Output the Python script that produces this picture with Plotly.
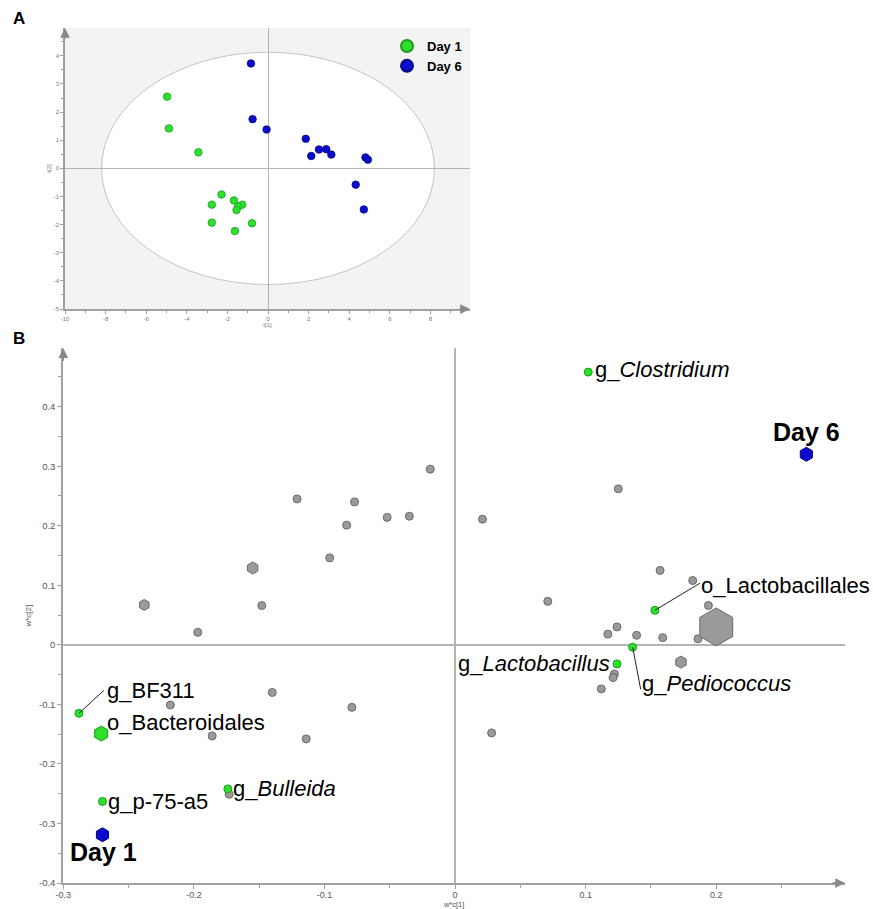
import plotly.graph_objects as go

# ---------------- Panel A: score plot (t[1] vs t[2]) ----------------
a_day1_t1 = [-4.97, -4.88, -3.43, -2.29, -2.77, -1.68, -1.27, -1.47, -1.55, -2.77, -0.79, -1.63]
a_day1_t2 = [2.55, 1.42, 0.57, -0.93, -1.29, -1.14, -1.29, -1.35, -1.48, -1.93, -1.95, -2.23]
a_day6_t1 = [-0.84, -0.76, -0.07, 1.86, 2.13, 2.51, 2.87, 3.12, 4.80, 4.92, 4.32, 4.72]
a_day6_t2 = [3.73, 1.75, 1.38, 1.05, 0.44, 0.67, 0.68, 0.49, 0.39, 0.31, -0.58, -1.46]
a_ellipse_axes = [8.2, 4.13]          # Hotelling T2 ellipse semi-axes
a_xticks = [-10, -8, -6, -4, -2, 0, 2, 4, 6, 8]
a_yticks = [-5, -4, -3, -2, -1, 0, 1, 2, 3, 4]

# ---------------- Panel B: loading plot (w*c[1] vs w*c[2]) ----------------
b_gray_x = [-0.121, -0.077, -0.083, -0.052, -0.035, -0.019, 0.021, 0.125, 0.071, 0.157,
            0.182, 0.194, 0.186, 0.159, 0.139, 0.124, 0.117, 0.122, 0.121, 0.112,
            0.028, -0.148, -0.197, -0.096, -0.218, -0.140, -0.186, -0.114, -0.079, -0.173]
b_gray_y = [0.245, 0.240, 0.201, 0.214, 0.216, 0.295, 0.211, 0.262, 0.073, 0.125,
            0.108, 0.066, 0.010, 0.012, 0.016, 0.030, 0.018, -0.049, -0.055, -0.074,
            -0.148, 0.066, 0.021, 0.146, -0.101, -0.080, -0.153, -0.158, -0.105, -0.251]
b_grayhex_x = [-0.155, -0.238, 0.173, 0.200]
b_grayhex_y = [0.129, 0.067, -0.029, 0.030]

b_taxa = ['g_<i>Clostridium</i>', 'o_Lactobacillales', 'g_<i>Lactobacillus</i>',
          'g_<i>Pediococcus</i>', 'g_BF311', 'o_Bacteroidales', 'g_p-75-a5', 'g_<i>Bulleida</i>']
b_taxa_x = [0.102, 0.153, 0.124, 0.136, -0.288, -0.271, -0.270, -0.174]
b_taxa_y = [0.458, 0.058, -0.032, -0.004, -0.115, -0.149, -0.263, -0.242]

b_days = ['Day 1', 'Day 6']
b_days_x = [-0.270, 0.269]
b_days_y = [-0.319, 0.320]

b_xticks = [-0.3, -0.2, -0.1, 0, 0.1, 0.2]
b_xticktext = ['-0.3', '-0.2', '-0.1', '0', '0.1', '0.2']
b_yticks = [-0.4, -0.3, -0.2, -0.1, 0, 0.1, 0.2, 0.3, 0.4]
b_yticktext = ['-0.4', '-0.3', '-0.2', '-0.1', '0', '0.1', '0.2', '0.3', '0.4']

# ---------------- styles ----------------
W, H = 873, 909
GREEN, GREEN_EDGE = '#2ee02e', '#1c9c1c'
BLUE, BLUE_EDGE = '#0b0bd0', '#05057a'
GRAY, GRAY_EDGE = '#9a9a9a', '#6a6a6a'
AXC = '#a0a0a0'
LABEL_FONT = 'Liberation Sans, Arial, sans-serif'
grayhex_sizes = [12, 11, 12, 38]
taxa_symbols = ['circle', 'circle', 'circle', 'circle', 'circle', 'hexagon', 'circle', 'circle']
taxa_sizes = [8, 8, 8, 8, 8, 15, 8, 8]
# label placement: (xanchor, xshift, yshift) in pixels
taxa_label_pos = [('left', 5, 3), ('left', 44, 25), ('right', -5, 0), ('left', 7, -36),
                  ('left', 26, 23), ('left', 4, 11), ('left', 4, 0), ('left', 3, 0)]
# leader lines (dx, dy pixels) for some labels
taxa_leaders = {4: (25, 23), 1: (45, 27), 3: (8, -42)}
day_label_pos = [(1, -17), (0, 22)]

fig = go.Figure()

# Panel A traces
fig.add_trace(go.Scatter(x=a_day1_t1, y=a_day1_t2, mode='markers', name='Day 1',
                         marker=dict(color=GREEN, size=7.5, opacity=1,
                                     line=dict(color=GREEN_EDGE, width=0.8)),
                         xaxis='x', yaxis='y'))
fig.add_trace(go.Scatter(x=a_day6_t1, y=a_day6_t2, mode='markers', name='Day 6',
                         marker=dict(color=BLUE, size=7.5, opacity=1,
                                     line=dict(color=BLUE_EDGE, width=0.8)),
                         xaxis='x', yaxis='y'))

# Panel B traces
fig.add_trace(go.Scatter(x=b_gray_x, y=b_gray_y, mode='markers', showlegend=False,
                         marker=dict(color=GRAY, size=8, opacity=1,
                                     line=dict(color=GRAY_EDGE, width=1)),
                         xaxis='x2', yaxis='y2'))
fig.add_trace(go.Scatter(x=b_grayhex_x, y=b_grayhex_y, mode='markers', showlegend=False,
                         marker=dict(color=GRAY, size=grayhex_sizes, symbol='hexagon', opacity=1,
                                     line=dict(color=GRAY_EDGE, width=1)),
                         xaxis='x2', yaxis='y2'))
fig.add_trace(go.Scatter(x=b_taxa_x, y=b_taxa_y, mode='markers', showlegend=False,
                         marker=dict(color=GREEN, size=taxa_sizes, symbol=taxa_symbols, opacity=1,
                                     line=dict(color=GREEN_EDGE, width=1)),
                         xaxis='x2', yaxis='y2'))
fig.add_trace(go.Scatter(x=b_days_x, y=b_days_y, mode='markers', showlegend=False,
                         marker=dict(color=BLUE, size=14, symbol='hexagon', opacity=1,
                                     line=dict(color=BLUE_EDGE, width=1)),
                         xaxis='x2', yaxis='y2'))

shapes = [
    dict(type='rect', xref='x domain', yref='y domain', x0=0, x1=1, y0=0, y1=1,
         fillcolor='#f3f3f3', line=dict(width=0), layer='below'),
    dict(type='circle', xref='x', yref='y', x0=-a_ellipse_axes[0], x1=a_ellipse_axes[0],
         y0=-a_ellipse_axes[1], y1=a_ellipse_axes[1], fillcolor='white',
         line=dict(color='#c4c4c4', width=1), layer='below'),
]
for i, (dx, dy) in taxa_leaders.items():
    shapes.append(dict(type='line', xref='x2', yref='y2', xsizemode='pixel', ysizemode='pixel',
                       xanchor=b_taxa_x[i], yanchor=b_taxa_y[i], x0=0, y0=0, x1=dx, y1=dy,
                       line=dict(color='#222', width=1)))

annotations = []
for i, name in enumerate(b_taxa):
    xa, xs, ys = taxa_label_pos[i]
    annotations.append(dict(x=b_taxa_x[i], y=b_taxa_y[i], xref='x2', yref='y2', text=name,
                            showarrow=False, xanchor=xa, yanchor='middle', xshift=xs, yshift=ys,
                            font=dict(family=LABEL_FONT, size=22, color='black')))
for i, name in enumerate(b_days):
    xs, ys = day_label_pos[i]
    annotations.append(dict(x=b_days_x[i], y=b_days_y[i], xref='x2', yref='y2',
                            text='<b>%s</b>' % name, showarrow=False, xanchor='center',
                            yanchor='middle', xshift=xs, yshift=ys,
                            font=dict(family=LABEL_FONT, size=25, color='black')))
# panel letters
annotations.append(dict(x=19 / W, y=1 - 19 / H, xref='paper', yref='paper', text='<b>A</b>',
                        xanchor='center', yanchor='middle', showarrow=False,
                        font=dict(family='Liberation Sans, Arial', size=17, color='black')))
annotations.append(dict(x=19 / W, y=1 - 339 / H, xref='paper', yref='paper', text='<b>B</b>',
                        xanchor='center', yanchor='middle', showarrow=False,
                        font=dict(family='Liberation Sans, Arial', size=17, color='black')))
# axis arrow heads
for xr, yr, xv, yv, ax, ay in [('x', 'y', 9.95, -5, -12, 0), ('x', 'y', -10, 4.99, 0, 12),
                               ('x2', 'y2', 0.2986, -0.4, -14, 0), ('x2', 'y2', -0.3, 0.498, 0, 14)]:
    annotations.append(dict(x=xv, y=yv, xref=xr, yref=yr, ax=ax, ay=ay, text='', showarrow=True,
                            arrowhead=2, arrowsize=1.3, arrowwidth=1.5, arrowcolor='#888'))

common = dict(showgrid=False, zeroline=True, zerolinecolor='#b4b4b4', showline=True,
              linecolor=AXC, ticks='outside', tickcolor=AXC, tickmode='array', automargin=False)

fig.update_layout(
    width=W, height=H, autosize=False,
    margin=dict(l=0, r=0, t=0, b=0, pad=0),
    paper_bgcolor='white', plot_bgcolor='white',
    font=dict(family='Liberation Sans, Arial, sans-serif'),
    xaxis=dict(domain=[65 / W, 470 / W], range=[-10, 9.95], anchor='y',
               tickvals=a_xticks, ticktext=[str(v) for v in a_xticks],
               tickfont=dict(size=6, color='#777'), ticklen=3, linewidth=1.5, zerolinewidth=1,
               minor=dict(ticks='outside', dtick=1, tick0=0, ticklen=2, tickcolor=AXC),
               title=dict(text='t[1]', font=dict(size=6, color='#777'), standoff=2), **common),
    yaxis=dict(domain=[1 - 309 / H, 1 - 28 / H], range=[-5, 4.99], anchor='x',
               tickvals=a_yticks, ticktext=[str(v) for v in a_yticks],
               tickfont=dict(size=6, color='#777'), ticklen=3, linewidth=1.5, zerolinewidth=1,
               minor=dict(ticks='outside', dtick=0.5, tick0=0, ticklen=2, tickcolor=AXC),
               title=dict(text='t[2]', font=dict(size=6, color='#777'), standoff=2), **common),
    xaxis2=dict(domain=[63.3 / W, 845 / W], range=[-0.3, 0.2986], anchor='y2',
                tickvals=b_xticks, ticktext=b_xticktext, ticklabelstandoff=-2,
                tickfont=dict(size=9, color='#555'), ticklen=4, linewidth=2, zerolinewidth=1.5,
                minor=dict(ticks='outside', dtick=0.05, tick0=0, ticklen=3, tickcolor=AXC),
                title=dict(text='w*c[1]', font=dict(size=7.5, color='#555'), standoff=5), **common),
    yaxis2=dict(domain=[1 - 883 / H, 1 - 348.3 / H], range=[-0.4, 0.498], anchor='x2',
                tickvals=b_yticks, ticktext=b_yticktext,
                tickfont=dict(size=9.5, color='#555'), ticklen=4, linewidth=2, zerolinewidth=1.5,
                minor=dict(ticks='outside', dtick=0.05, tick0=0, ticklen=3, tickcolor=AXC),
                title=dict(text='w*c[2]', font=dict(size=8, color='#555'), standoff=6), **common),
    showlegend=True,
    legend=dict(x=387 / W, y=1 - 31 / H, xanchor='left', yanchor='top', itemsizing='constant',
                bgcolor='rgba(0,0,0,0)',
                font=dict(size=13, color='black', weight='bold', family='Liberation Sans, Arial'),
                tracegroupgap=0, itemwidth=30),
    shapes=shapes, annotations=annotations,
)

fig.write_html('out.html', config={'displayModeBar': False},
               post_script="document.body.style.margin='0px';")
